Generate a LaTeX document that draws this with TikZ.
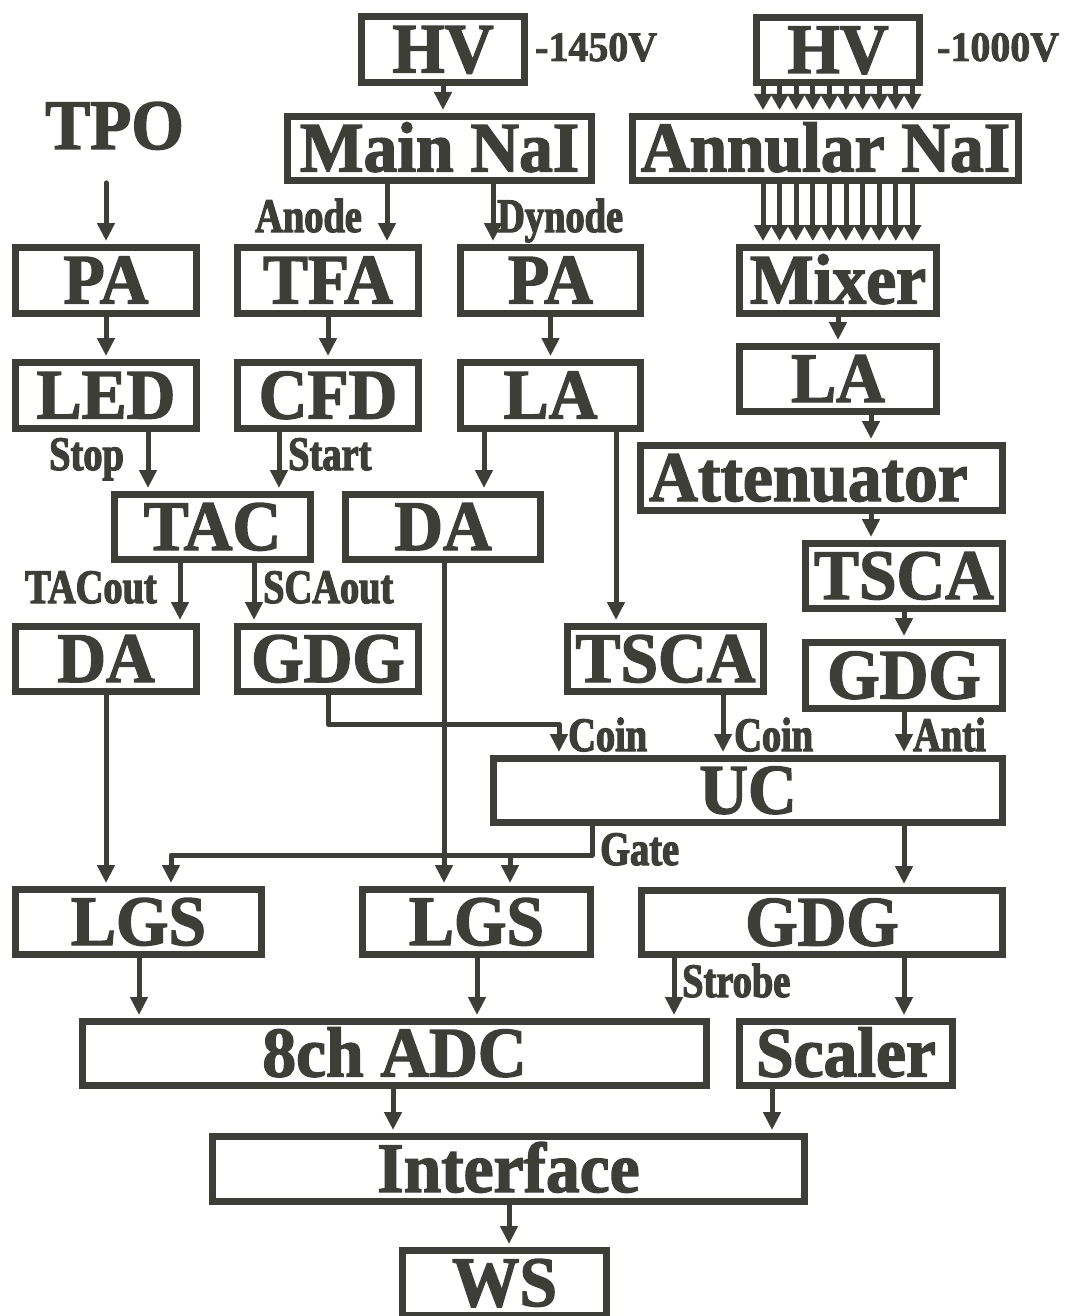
\documentclass[tikz,border=0pt]{standalone}
\usepackage{fontspec}
\setmainfont{Liberation Serif}
\newfontfamily\boxfont{Liberation Serif}[FakeStretch=0.95, FakeBold=2]
\newfontfamily\labfont{Liberation Serif}[FakeStretch=0.8, FakeBold=2.5]
\usetikzlibrary{arrows.meta}
\definecolor{fg}{RGB}{62,62,56}
\newcommand\mybox[6]{\node[box, minimum width={#4pt-#2pt-7pt}, minimum height={#5pt-#3pt-7pt}] (#1) at ({(#2+#4)/2},{(#3+#5)/2}) {#6};}
\begin{document}
\begin{tikzpicture}[x=1pt,y=-1pt,
 box/.style={draw=fg, line width=7pt, inner sep=0pt, text=fg, font=\boxfont\bfseries\fontsize{71pt}{80pt}\selectfont, text height=46pt, text depth=0pt},
 arr/.style={draw=fg, line width=5pt, line join=round, -{Triangle[length=18pt,width=17pt]}, shorten >=3pt},
 marr/.style={draw=fg, line width=5pt, -{Triangle[length=16pt,width=17pt]}, shorten >=3pt},
 lab/.style={text=fg, inner sep=0pt, anchor=base west, font=\labfont\bfseries\fontsize{48pt}{52pt}\selectfont},
 volt/.style={text=fg, inner sep=0pt, anchor=base west, font=\boxfont\bfseries\fontsize{42pt}{46pt}\selectfont},
 big/.style={text=fg, inner sep=0pt, anchor=base west, font=\boxfont\bfseries\fontsize{71pt}{80pt}\selectfont}]
\fill[white] (0,0) rectangle (1067,1316);
\useasboundingbox (0,0) rectangle (1067,1316);
% boxes
\mybox{hv1}{358}{13}{528}{86}{HV}
\mybox{hv2}{753}{14}{923}{86}{HV}
\mybox{mainnai}{284}{113}{595}{184}{Main NaI}
\mybox{annular}{629}{113}{1022}{184}{Annular NaI}
\mybox{pa1}{12}{244}{200}{317}{PA}
\mybox{tfa}{234}{244}{422}{317}{TFA}
\mybox{pa2}{457}{244}{644}{317}{PA}
\mybox{mixer}{736}{244}{940}{317}{Mixer}
\mybox{led}{12}{359}{200}{432}{LED}
\mybox{cfd}{234}{359}{422}{432}{CFD}
\mybox{la1}{457}{359}{644}{432}{LA}
\mybox{la2}{736}{343}{940}{415}{LA}
\mybox{att}{637}{442}{1006}{514}{Attenuator\kern26pt}
\mybox{tac}{111}{491}{314}{563}{TAC}
\mybox{da2}{342}{491}{544}{563}{DA}
\mybox{tsca2}{802}{540}{1006}{612}{TSCA}
\mybox{da1}{12}{623}{200}{695}{DA}
\mybox{gdg1}{234}{623}{422}{695}{GDG}
\mybox{tsca1}{564}{623}{767}{695}{TSCA}
\mybox{gdg3}{802}{639}{1006}{712}{GDG}
\mybox{uc}{490}{755}{1006}{826}{UC}
\mybox{lgs1}{12}{886}{265}{958}{LGS}
\mybox{lgs2}{359}{886}{594}{958}{LGS}
\mybox{gdg4}{638}{887}{1006}{958}{GDG}
\mybox{adc}{79}{1018}{710}{1089}{8ch ADC}
\mybox{scaler}{736}{1018}{956}{1089}{Scaler}
\mybox{interface}{209}{1133}{808}{1205}{Interface}
\mybox{ws}{399}{1247}{610}{1319}{WS}
% free texts
\node[big] (tpo) at (45,149) {TPO};
\node[volt] (v1) at (535,61) {-1450V};
\node[volt] (v2) at (937,61) {-1000V};
\node[lab] (anode) at (255,232) {Anode};
\node[lab] (dynode) at (497,232) {Dynode};
\node[lab] (stop) at (49,470) {Stop};
\node[lab] (start) at (288,470) {Start};
\node[lab] (tacout) at (25,603) {TACout};
\node[lab] (scaout) at (263,603) {SCAout};
\node[lab] (coin1) at (568,751) {Coin};
\node[lab] (coin2) at (734,751) {Coin};
\node[lab] (anti) at (913,751) {Anti};
\node[lab] (gate) at (600,865) {Gate};
\node[lab] (strobe) at (682,997) {Strobe};
% column coordinates
\coordinate (x106) at (106,0);
\coordinate (x387) at (387,0);
\coordinate (x493) at (493,0);
\coordinate (x148) at (148,0);
\coordinate (x279) at (279,0);
\coordinate (x484) at (484,0);
\coordinate (x616) at (616,0);
\coordinate (x871) at (871,0);
\coordinate (x180) at (180,0);
\coordinate (x254) at (254,0);
\coordinate (x444) at (444,0);
\coordinate (x723) at (723,0);
\coordinate (x904) at (904,0);
\coordinate (x592) at (592,0);
\coordinate (x510) at (510,0);
\coordinate (x139) at (139,0);
\coordinate (x477) at (477,0);
\coordinate (x674) at (674,0);
\coordinate (x393) at (393,0);
\coordinate (x772) at (772,0);
\coordinate (x509) at (509,0);
\coordinate (k2) at (559,724);
\coordinate (g1) at (592,855);
\coordinate (g2) at (171,855);
% connectors
\draw[arr, line cap=round, shorten <=33pt] (x106 |- tpo.south) -- (x106 |- pa1.north);
\draw[arr] (hv1.south) -- (hv1.south |- mainnai.north);
\foreach \i in {0,...,9} {
  \coordinate (m\i) at ({763+16.6*\i},0);
  \draw[marr] (m\i |- hv2.south) -- (m\i |- annular.north);
  \draw[marr] (m\i |- annular.south) -- (m\i |- mixer.north);
}
\draw[arr] (x387 |- mainnai.south) -- (x387 |- tfa.north);
\draw[arr] (x493 |- mainnai.south) -- (x493 |- pa2.north);
\draw[arr] (x106 |- pa1.south) -- (x106 |- led.north);
\draw[arr] (tfa.south) -- (cfd.north);
\draw[arr] (pa2.south) -- (pa2.south |- la1.north);
\draw[arr] (mixer.south) -- (mixer.south |- la2.north);
\draw[arr] (x148 |- led.south) -- (x148 |- tac.north);
\draw[arr] (x279 |- cfd.south) -- (x279 |- tac.north);
\draw[arr] (x484 |- la1.south) -- (x484 |- da2.north);
\draw[arr] (x616 |- la1.south) -- (x616 |- tsca1.north);
\draw[arr] (x871 |- la2.south) -- (x871 |- att.north);
\draw[arr] (x871 |- att.south) -- (x871 |- tsca2.north);
\draw[arr] (x180 |- tac.south) -- (x180 |- da1.north);
\draw[arr] (x254 |- tac.south) -- (x254 |- gdg1.north);
\draw[arr] (x106 |- da1.south) -- (x106 |- lgs1.north);
\draw[arr] (gdg1.south) |- (k2) -- (k2 |- uc.north);
\draw[arr] (x444 |- da2.south) -- (x444 |- lgs2.north);
\draw[arr] (x723 |- tsca1.south) -- (x723 |- uc.north);
\draw[arr] (x904 |- tsca2.south) -- (x904 |- gdg3.north);
\draw[arr] (x904 |- gdg3.south) -- (x904 |- uc.north);
\draw[arr] (x592 |- uc.south) -- (g1) -- (g2) -- (g2 |- lgs1.north);
\draw[arr] (x510 |- g1) -- (x510 |- lgs2.north);
\draw[arr] (x904 |- uc.south) -- (x904 |- gdg4.north);
\draw[arr] (x139 |- lgs1.south) -- (x139 |- adc.north);
\draw[arr] (x477 |- lgs2.south) -- (x477 |- adc.north);
\draw[arr] (x674 |- gdg4.south) -- (x674 |- adc.north);
\draw[arr] (x904 |- gdg4.south) -- (x904 |- scaler.north);
\draw[arr] (x393 |- adc.south) -- (x393 |- interface.north);
\draw[arr] (x772 |- scaler.south) -- (x772 |- interface.north);
\draw[arr] (x509 |- interface.south) -- (x509 |- ws.north);
\end{tikzpicture}
\end{document}
